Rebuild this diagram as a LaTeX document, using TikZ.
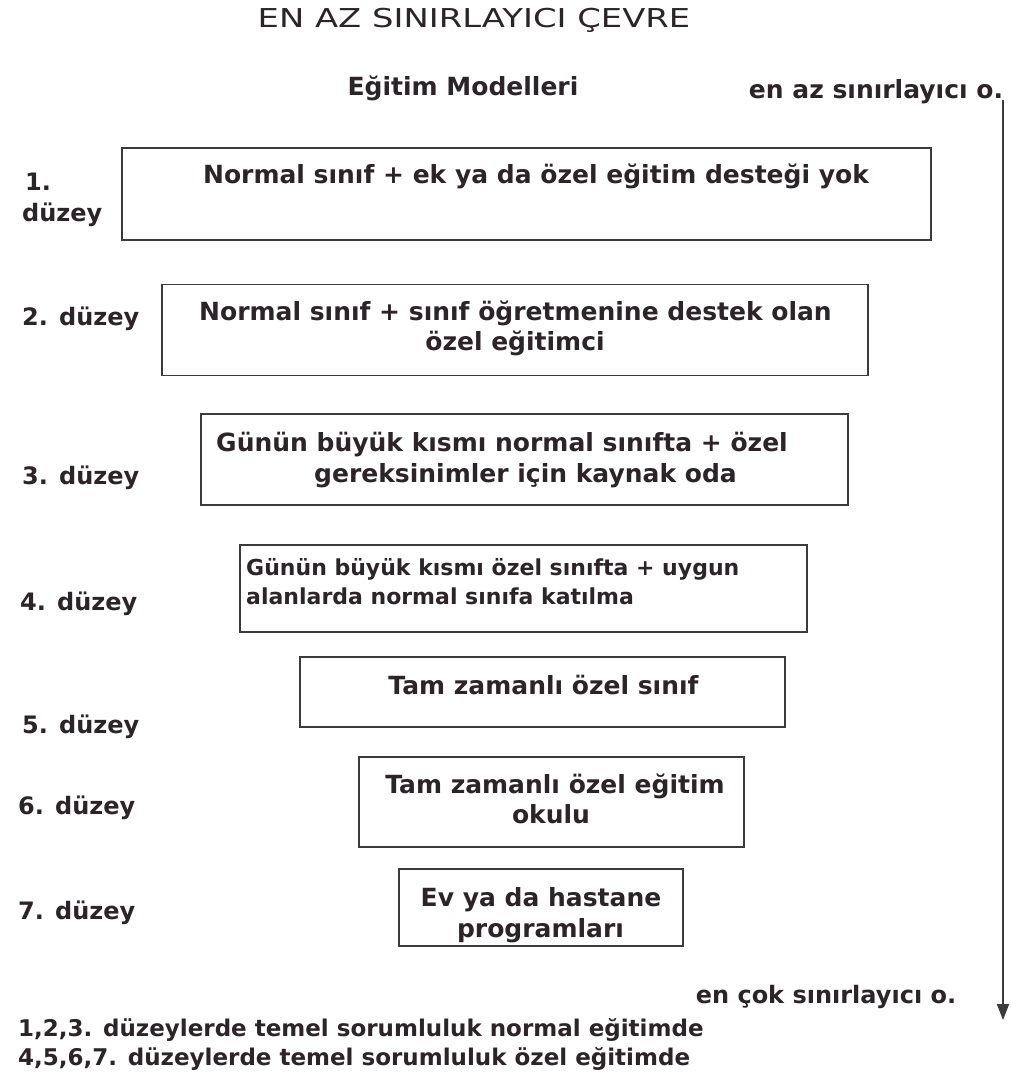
\documentclass[tikz,border=0pt]{standalone}
\usepackage{fontspec}
\setmainfont{DejaVu Sans}
\newfontfamily\widefont[FakeStretch=1.3]{DejaVu Sans}
\usetikzlibrary{arrows.meta}
\definecolor{ink}{RGB}{44,36,40}
\definecolor{frame}{RGB}{60,58,60}
\begin{document}
\begin{tikzpicture}[x=1pt,y=-1pt,
  txt/.style={inner sep=0pt, text=ink, font=\bfseries\fontsize{25}{25}\selectfont},
  lvl/.style={inner sep=0pt, text=ink, font=\bfseries\fontsize{24}{24}\selectfont},
  note/.style={inner sep=0pt, text=ink, font=\bfseries\fontsize{23}{23}\selectfont},
  small/.style={inner sep=0pt, text=ink, font=\bfseries\fontsize{22}{22}\selectfont},
  ttl/.style={inner sep=0pt, text=ink, font=\widefont\fontsize{26}{26}\selectfont},
  box/.style={draw=frame, line width=1.8pt, inner sep=0pt}]
\useasboundingbox (0,0) rectangle (1011,1077);
% title
\node[ttl, anchor=base] (title) at (474,27) {EN AZ SINIRLAYICI ÇEVRE};
\node[txt, anchor=base] (models) at (463,95) {Eğitim Modelleri};
\node[txt, anchor=base] (least) at (876,98) {en az sınırlayıcı o.};
% boxes
\node[box, minimum width=809, minimum height=92] (b1) at (526.5,194) {};
\node[box, minimum width=706, minimum height=91] (b2) at (515,330) {};
\node[box, minimum width=647, minimum height=91] (b3) at (524.5,459.5) {};
\node[box, minimum width=567, minimum height=87] (b4) at (523.5,588.5) {};
\node[box, minimum width=485, minimum height=70] (b5) at (542.5,692) {};
\node[box, minimum width=385, minimum height=90] (b6) at (551.5,802) {};
\node[box, minimum width=284, minimum height=77] (b7) at (541,907.5) {};
% box texts
\node[txt, anchor=base] (t1) at (536,183) {Normal sınıf + ek ya da özel eğitim desteği yok};
\node[txt, anchor=base] (t2a) at (515.5,320) {Normal sınıf + sınıf öğretmenine destek olan};
\node[txt, anchor=base] (t2b) at (515,350) {özel eğitimci};
\node[txt, anchor=base] (t3a) at (502,451) {Günün büyük kısmı normal sınıfta + özel};
\node[txt, anchor=base] (t3b) at (525.5,482) {gereksinimler için kaynak oda};
\node[small, anchor=base west] (t4a) at (246,575) {Günün büyük kısmı özel sınıfta + uygun};
\node[small, anchor=base west] (t4b) at (246,604) {alanlarda normal sınıfa katılma};
\node[txt, anchor=base] (t5) at (543.5,694) {Tam zamanlı özel sınıf};
\node[txt, anchor=base] (t6a) at (555,793) {Tam zamanlı özel eğitim};
\node[txt, anchor=base] (t6b) at (551,823) {okulu};
\node[txt, anchor=base] (t7a) at (541,906) {Ev ya da hastane};
\node[txt, anchor=base] (t7b) at (540.5,937) {programları};
% levels
\node[lvl, anchor=base west] (l1a) at (25,190) {1.};
\node[lvl, anchor=base west] (l1b) at (22,221) {düzey};
\node[lvl, anchor=base west] (l2) at (22,325) {2. düzey};
\node[lvl, anchor=base west] (l3) at (22,484) {3. düzey};
\node[lvl, anchor=base west] (l4) at (20,610) {4. düzey};
\node[lvl, anchor=base west] (l5) at (22,733) {5. düzey};
\node[lvl, anchor=base west] (l6) at (18,814) {6. düzey};
\node[lvl, anchor=base west] (l7) at (18,919) {7. düzey};
% bottom
\node[lvl, anchor=base] (most) at (826,1003) {en çok sınırlayıcı o.};
\node[note, anchor=base west] (n1) at (18,1036) {1,2,3. düzeylerde temel sorumluluk normal eğitimde};
\node[note, anchor=base west] (n2) at (18,1065) {4,5,6,7. düzeylerde temel sorumluluk özel eğitimde};
% arrow
\coordinate (atop) at (1003,100);
\coordinate (abot) at (1003,1020);
\draw[frame, line width=1.8pt, -{Triangle[width=12pt,length=16pt]}] (atop) -- (abot);
\end{tikzpicture}
\end{document}
